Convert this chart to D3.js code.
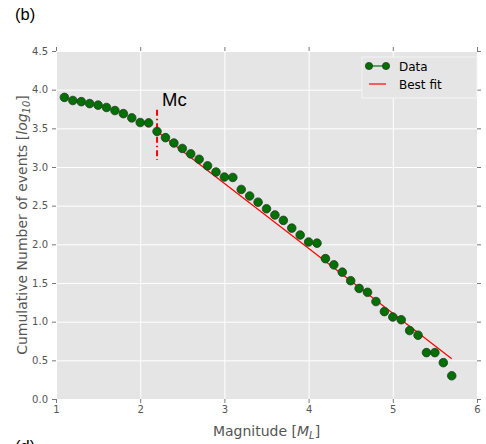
<!DOCTYPE html>
<html>
<head>
<meta charset="utf-8">
<script src="https://cdn.jsdelivr.net/npm/d3@7"></script>
<style>
  html, body { margin: 0; padding: 0; background: #fff; }
  svg { display: block; }
  text { font-family: "DejaVu Sans", sans-serif; }
</style>
</head>
<body>
<svg id="chart" width="486" height="444"></svg>
<script>
// Magnitude bins and cumulative number of events (log10)
const magnitudes = [1.1, 1.2, 1.3, 1.4, 1.5, 1.6, 1.7, 1.8, 1.9, 2.0,
  2.1, 2.2, 2.3, 2.4, 2.5, 2.6, 2.7, 2.8, 2.9, 3.0,
  3.1, 3.2, 3.3, 3.4, 3.5, 3.6, 3.7, 3.8, 3.9, 4.0,
  4.1, 4.2, 4.3, 4.4, 4.5, 4.6, 4.7, 4.8, 4.9, 5.0,
  5.1, 5.2, 5.3, 5.4, 5.5, 5.6, 5.7];
const logCounts = [3.90, 3.86, 3.845, 3.82, 3.80, 3.77, 3.73, 3.69, 3.635, 3.575,
  3.57, 3.46, 3.38, 3.31, 3.24, 3.17, 3.10, 3.015, 2.935, 2.87,
  2.865, 2.71, 2.625, 2.545, 2.46, 2.38, 2.31, 2.21, 2.12, 2.03,
  2.015, 1.815, 1.735, 1.64, 1.53, 1.43, 1.38, 1.26, 1.13, 1.06,
  1.025, 0.885, 0.825, 0.60, 0.60, 0.47, 0.30];

// Gutenberg-Richter fit above the magnitude of completeness
const fitMagnitudes = [2.2, 5.7];
const fitValues = [3.46, 0.52];
const completenessMag = 2.2;
const completenessRange = [3.09, 3.74];

const xTicks = [1, 2, 3, 4, 5, 6];
const yTicks = [0.0, 0.5, 1.0, 1.5, 2.0, 2.5, 3.0, 3.5, 4.0, 4.5];

const svg = d3.select("#chart");
const plotLeft = 56, plotRight = 477, plotTop = 51, plotBottom = 399;

const x = d3.scaleLinear().domain([1, 6]).range([plotLeft, plotRight]);
const y = d3.scaleLinear().domain([0, 4.5]).range([plotBottom, plotTop]);

// panel background
svg.append("rect")
  .attr("x", plotLeft).attr("y", plotTop)
  .attr("width", plotRight - plotLeft).attr("height", plotBottom - plotTop)
  .attr("fill", "#e5e5e5");

// grid
svg.append("g")
  .attr("transform", `translate(0,${plotBottom})`)
  .call(d3.axisBottom(x).tickValues(xTicks).tickSize(-(plotBottom - plotTop)).tickFormat(""))
  .call(g => g.select(".domain").remove())
  .call(g => g.selectAll("line").attr("stroke", "#fff").attr("stroke-width", 1));
svg.append("g")
  .attr("transform", `translate(${plotLeft},0)`)
  .call(d3.axisLeft(y).tickValues(yTicks).tickSize(-(plotRight - plotLeft)).tickFormat(""))
  .call(g => g.select(".domain").remove())
  .call(g => g.selectAll("line").attr("stroke", "#fff").attr("stroke-width", 1));

// axes with outward ticks
function styleAxis(g) {
  g.select(".domain").remove();
  g.selectAll("line").attr("stroke", "#555").attr("stroke-width", 0.8);
  g.selectAll("text").attr("fill", "#555").style("font-size", "10px")
    .style("font-family", "'DejaVu Sans', sans-serif");
}
svg.append("g")
  .attr("transform", `translate(0,${plotBottom})`)
  .call(d3.axisBottom(x).tickValues(xTicks).tickSize(4).tickPadding(3).tickFormat(d3.format("d")))
  .call(styleAxis);
svg.append("g")
  .attr("transform", `translate(0,${plotTop})`)
  .call(d3.axisTop(x).tickValues(xTicks).tickSize(4).tickFormat(""))
  .call(styleAxis);
svg.append("g")
  .attr("transform", `translate(${plotLeft},0)`)
  .call(d3.axisLeft(y).tickValues(yTicks).tickSize(4).tickPadding(4).tickFormat(d3.format(".1f")))
  .call(styleAxis);
svg.append("g")
  .attr("transform", `translate(${plotRight},0)`)
  .call(d3.axisRight(y).tickValues(yTicks).tickSize(4).tickFormat(""))
  .call(styleAxis);

// best fit line
svg.append("path")
  .datum(fitMagnitudes.map((m, i) => [m, fitValues[i]]))
  .attr("d", d3.line().x(d => x(d[0])).y(d => y(d[1])))
  .attr("fill", "none")
  .attr("stroke", "#ff0000")
  .attr("stroke-width", 1.2);

// magnitude of completeness marker
svg.append("line")
  .attr("x1", x(completenessMag)).attr("x2", x(completenessMag))
  .attr("y1", y(completenessRange[1])).attr("y2", y(completenessRange[0]))
  .attr("stroke", "#ff0000")
  .attr("stroke-width", 2)
  .attr("stroke-dasharray", "6,3,1.5,3");

svg.append("text")
  .attr("x", x(completenessMag) + 5).attr("y", 106)
  .style("font-family", "'Liberation Sans', Arial, sans-serif")
  .style("font-size", "18.5px")
  .attr("fill", "#000")
  .text("Mc");

// data points
svg.append("g")
  .selectAll("circle")
  .data(magnitudes.map((m, i) => [m, logCounts[i]]))
  .join("circle")
  .attr("cx", d => x(d[0]))
  .attr("cy", d => y(d[1]))
  .attr("r", 4.3)
  .attr("fill", "#007000")
  .attr("stroke", "#2b3a2b")
  .attr("stroke-width", 0.8);

// legend
const legend = svg.append("g");
legend.append("rect")
  .attr("x", 362).attr("y", 57)
  .attr("width", 115).attr("height", 41)
  .attr("fill", "#e5e5e5")
  .attr("stroke", "#f4f4f4")
  .attr("stroke-width", 1);
legend.append("line")
  .attr("x1", 369).attr("x2", 386).attr("y1", 66).attr("y2", 66)
  .attr("stroke", "#007000").attr("stroke-width", 1.2);
[369, 386].forEach(cx => legend.append("circle")
  .attr("cx", cx).attr("cy", 66).attr("r", 3.6)
  .attr("fill", "#007000").attr("stroke", "#2b3a2b").attr("stroke-width", 0.8));
legend.append("line")
  .attr("x1", 369).attr("x2", 386).attr("y1", 84).attr("y2", 84)
  .attr("stroke", "#ff0000").attr("stroke-width", 1.2);
legend.append("text").attr("x", 399).attr("y", 70.5)
  .style("font-size", "12px").attr("fill", "#000").text("Data");
legend.append("text").attr("x", 399).attr("y", 88.5)
  .style("font-size", "12px").attr("fill", "#000").text("Best fit");

// axis titles
const xLabel = svg.append("text")
  .attr("x", (plotLeft + plotRight) / 2).attr("y", 436)
  .attr("text-anchor", "middle")
  .attr("fill", "#555")
  .style("font-size", "14px");
xLabel.append("tspan").text("Magnitude [");
xLabel.append("tspan").style("font-style", "italic").text("M");
xLabel.append("tspan").style("font-style", "italic").style("font-size", "10px").attr("dy", 3).text("L");
xLabel.append("tspan").attr("dy", -3).text("]");

const yLabel = svg.append("text")
  .attr("transform", `translate(27,${(plotTop + plotBottom) / 2}) rotate(-90)`)
  .attr("text-anchor", "middle")
  .attr("fill", "#555")
  .style("font-size", "14px");
yLabel.append("tspan").text("Cumulative Number of events [");
yLabel.append("tspan").style("font-style", "italic").text("log");
yLabel.append("tspan").style("font-style", "italic").style("font-size", "10px").attr("dy", 3).text("10");
yLabel.append("tspan").attr("dy", -3).text("]");

// panel letters
svg.append("text")
  .attr("x", 15).attr("y", 20)
  .style("font-family", "'Liberation Sans', Arial, sans-serif")
  .style("font-size", "16.5px").attr("fill", "#000")
  .text("(b)");
svg.append("text")
  .attr("x", 15).attr("y", 452)
  .style("font-family", "'Liberation Sans', Arial, sans-serif")
  .style("font-size", "16.5px").attr("fill", "#000")
  .text("(d)");
</script>
</body>
</html>
